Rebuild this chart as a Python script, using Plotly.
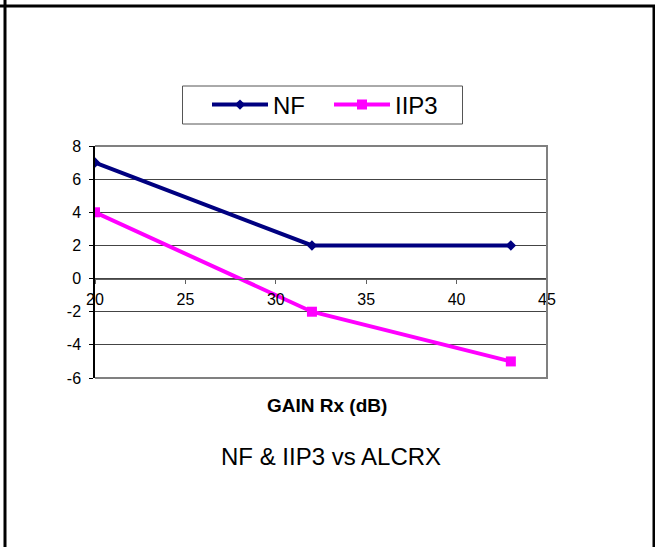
import plotly.graph_objects as go

# Receiver gain sweep: noise figure and input IP3
gain_db = [20, 32, 43]
nf_db = [7, 2, 2]
iip3_dbm = [4, -2, -5]

x_ticks = [20, 25, 30, 35, 40, 45]
y_ticks = [-6, -4, -2, 0, 2, 4, 6, 8]
y_tick_text = ["-6", "-4", "-2", "0", "2", "4", "6", "8"]

W, H = 655, 547
L, R, T, B = 95, 108, 146, 169
pw, ph = W - L - R, H - T - B


def px(x):
    return (x - L) / pw


def py(y):
    return (H - B - y) / ph


fig = go.Figure()
fig.add_trace(go.Scatter(
    x=gain_db, y=nf_db, name="NF", mode="lines+markers",
    line=dict(color="#000080", width=4),
    marker=dict(symbol="diamond", size=8, color="#000080"),
))
fig.add_trace(go.Scatter(
    x=gain_db, y=iip3_dbm, name="IIP3", mode="lines+markers",
    line=dict(color="#FF00FF", width=4),
    marker=dict(symbol="square", size=10, color="#FF00FF"),
))

ymin, ymax = y_ticks[0], y_ticks[-1]
zero_pos = (0 - ymin) / (ymax - ymin)

tick_font = dict(family="Liberation Sans, Arial, sans-serif", size=16, color="black")

fig.update_layout(
    width=W, height=H,
    margin=dict(l=L, r=R, t=T, b=B),
    paper_bgcolor="white", plot_bgcolor="white",
    font=dict(family="Liberation Sans, Arial, sans-serif", color="black", size=16),
    xaxis=dict(
        range=[x_ticks[0], x_ticks[-1]], tickvals=x_ticks,
        anchor="free", position=zero_pos,
        showgrid=False, zeroline=False,
        showline=True, linecolor="#606060", linewidth=1,
        ticks="outside", ticklen=4, tickcolor="#606060",
        tickfont=tick_font, ticklabelstandoff=2,
    ),
    yaxis=dict(
        range=[ymin, ymax], tickvals=y_ticks, ticktext=y_tick_text,
        showgrid=True, gridcolor="#444444", gridwidth=1,
        zeroline=False,
        showline=True, linecolor="black", linewidth=1.5,
        ticks="outside", ticklen=4, tickcolor="black",
        tickfont=tick_font, ticklabelstandoff=5,
    ),
    legend=dict(
        orientation="h", x=px(207), y=py(105), xanchor="left", yanchor="middle",
        borderwidth=0, bgcolor="rgba(0,0,0,0)",
        font=dict(size=24), itemwidth=56,
        entrywidth=51,
    ),
    showlegend=True,
)

# legend frame
fig.add_shape(type="rect", xref="paper", yref="paper",
              x0=px(182.5), x1=px(462.5), y0=py(124), y1=py(86),
              line=dict(color="#555555", width=1))

# plot-area border: top, right, bottom in gray
fig.add_shape(type="path", xref="x domain", yref="y domain",
              path="M 0 1 L 1 1 L 1 0 L 0 0",
              line=dict(color="#808080", width=2))

# outer frame lines
frame = dict(color="black", width=3)
fig.add_shape(type="line", xref="paper", yref="paper",
              x0=px(0), x1=px(W), y0=py(6), y1=py(6), line=frame)
fig.add_shape(type="line", xref="paper", yref="paper",
              x0=px(5), x1=px(5), y0=py(0), y1=py(H), line=frame)
fig.add_shape(type="line", xref="paper", yref="paper",
              x0=px(654), x1=px(654), y0=py(6), y1=py(H), line=frame)

fig.add_annotation(text="<b>GAIN Rx (dB)</b>", xref="paper", yref="paper",
                   x=px(327), y=py(405), xanchor="center", yanchor="middle",
                   showarrow=False, font=dict(size=19))
fig.add_annotation(text="NF & IIP3 vs ALCRX", xref="paper", yref="paper",
                   x=px(331), y=py(456), xanchor="center", yanchor="middle",
                   showarrow=False, font=dict(size=24))

fig.write_html("out.html")
